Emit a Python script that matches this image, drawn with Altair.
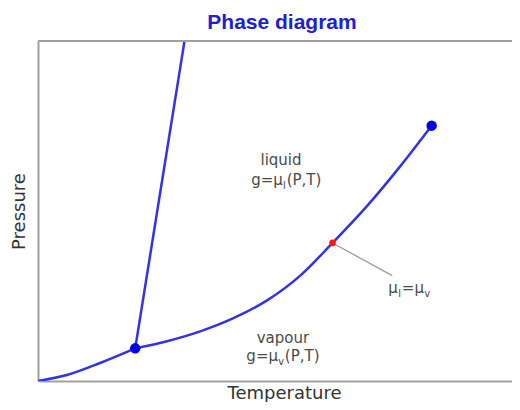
import altair as alt
import pandas as pd

# --- data (arbitrary units) ---
melt_T = [20.2, 30.9]
melt_P = [9.6, 104.0]
subl_T = [0.0, 6.0, 12.9, 20.2]
subl_P = [0.0, 1.75, 5.3, 9.6]
vap_T = [20.2, 26.8, 33.7, 40.5, 47.6, 54.5, 61.2, 68.4, 75.3, 81.8]
vap_P = [9.6, 11.7, 14.6, 18.4, 23.7, 31.0, 40.6, 51.5, 63.2, 75.1]
special_T = [20.2, 81.8]   # triple point, critical point
special_P = [9.6, 75.1]
coex_T = [61.2]            # point where mu_l = mu_v
coex_P = [40.6]
leader_T = [61.2, 73.6]
leader_P = [40.6, 31.0]

rows = []
for name, ts, ps in [("melt", melt_T, melt_P), ("subl", subl_T, subl_P), ("vap", vap_T, vap_P)]:
    for i, (t, p) in enumerate(zip(ts, ps)):
        rows.append({"curve": name, "i": i, "T": t, "P": p})
curves = pd.DataFrame(rows)

XMAX = 98.5
xs = alt.Scale(domain=[0, XMAX], nice=False, zero=False)
ys = alt.Scale(domain=[0, 100], nice=False, zero=False)

BLUE_LINE = "#3232e6"
BLUE_DOT = "#0000e8"
GREY_TXT = "#4a4a4a"
FRAME = "#a0a0a0"
FONT = "DejaVu Sans"

base_axes = alt.Chart(curves).mark_line(strokeWidth=2.5, color=BLUE_LINE, clip=True, interpolate="monotone").encode(
    x=alt.X("T:Q", scale=xs, axis=alt.Axis(title="Temperature", labels=False, ticks=False, grid=False,
                                           domainColor=FRAME, domainWidth=2, titlePadding=3,
                                           titleFont=FONT, titleFontSize=18, titleFontWeight="normal",
                                           titleColor="#333333", titleX=246)),
    y=alt.Y("P:Q", scale=ys, axis=alt.Axis(title="Pressure", labels=False, ticks=False, grid=False,
                                           domainColor=FRAME, domainWidth=2, titlePadding=10,
                                           titleFont=FONT, titleFontSize=18, titleFontWeight="normal",
                                           titleColor="#333333")),
    detail="curve:N",
    order="i:Q",
)

top_frame = alt.Chart().mark_rule(color=FRAME, strokeWidth=2).encode(
    x=alt.datum(0, scale=xs), x2=alt.datum(XMAX), y=alt.datum(100, scale=ys)
)

leader = alt.Chart(pd.DataFrame({"T": leader_T, "P": leader_P})).mark_line(color="#9a9a9a", strokeWidth=1.3).encode(
    x=alt.X("T:Q", scale=xs), y=alt.Y("P:Q", scale=ys)
)

dots = alt.Chart(pd.DataFrame({"T": special_T, "P": special_P})).mark_point(
    filled=True, size=110, color=BLUE_DOT, opacity=1
).encode(x=alt.X("T:Q", scale=xs), y=alt.Y("P:Q", scale=ys))

red = alt.Chart(pd.DataFrame({"T": coex_T, "P": coex_P})).mark_point(
    filled=True, size=45, color="#ff1a1a", opacity=1
).encode(x=alt.X("T:Q", scale=xs), y=alt.Y("P:Q", scale=ys))


def txt(x, y, s, size=15, dx=0, dy=0, align="left"):
    return alt.Chart().mark_text(text=s, font=FONT, fontSize=size, color=GREY_TXT, align=align,
                                 baseline="alphabetic", dx=dx, dy=dy).encode(
        x=alt.datum(x, scale=xs), y=alt.datum(y, scale=ys))


labels = [
    txt(50.5, 63.5, "liquid", align="center"),
    txt(44.3, 57.6, "g=μ"),
    txt(44.3, 57.6, "l", size=10, dx=31.8, dy=4),
    txt(44.3, 57.6, "(P,T)", dx=35.5),
    txt(50.9, 11.1, "vapour", align="center"),
    txt(43.3, 5.85, "g=μ"),
    txt(43.3, 5.85, "v", size=10, dx=31.8, dy=4),
    txt(43.3, 5.85, "(P,T)", dx=38.5),
    txt(72.8, 26.0, "μ"),
    txt(72.8, 26.0, "l", size=10, dx=9.8, dy=4),
    txt(72.8, 26.0, "=μ", dx=13.5),
    txt(72.8, 26.0, "v", size=10, dx=35.8, dy=4),
]

chart = alt.layer(base_axes, top_frame, leader, dots, red, *labels).properties(
    width=474,
    height=340,
    autosize=alt.AutoSizeParams(type="none"),
    padding={"left": 30, "top": 33, "right": 0, "bottom": 21},
    title=alt.TitleParams("Phase diagram", font="Liberation Sans", fontSize=21, fontWeight="bold",
                          color="#2020d0", anchor="middle", dx=7, offset=7),
).configure_view(stroke=None)

chart.save("out.html", embed_options={"renderer": "svg", "actions": False})
